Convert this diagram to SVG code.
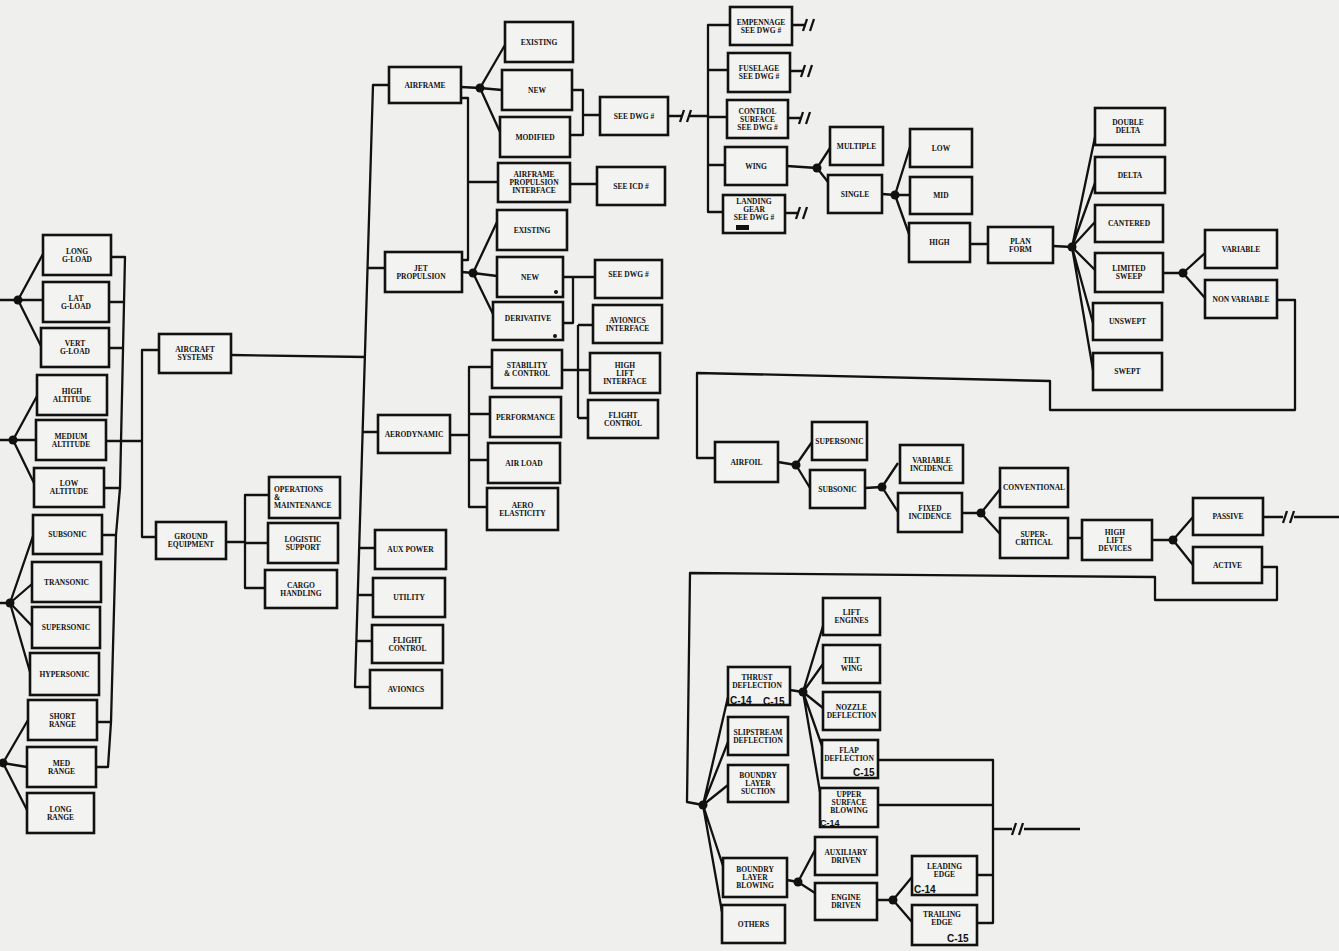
<svg xmlns="http://www.w3.org/2000/svg" xmlns:xlink="http://www.w3.org/1999/xlink" width="1339" height="951" viewBox="0 0 1339 951">
<style>
.b{fill:#f3f3f1;stroke:#111;stroke-width:2.6}
.c{fill:none;stroke:#111;stroke-width:2.3;stroke-linejoin:round}
.d{fill:#111}
.t{font-family:"Liberation Serif",serif;font-weight:bold;font-size:7.5px;fill:#111;text-anchor:middle}
.k{font-family:"Liberation Sans",sans-serif;font-weight:bold;font-size:10px;fill:#111}
</style>
<defs>
<path id="brk" class="c" d="M-7,6 L-3,-6 M0,6 L4,-6"/>
</defs>
<rect x="0" y="0" width="1339" height="951" fill="#efefed"/>
<g id="connectors">
<path class="c" d="M0,300 H18 M18,300 L43,254 M18,300 H43 M18,300 L41,346"/>
<path class="c" d="M0,440 H13 M13,440 L37,396 M13,440 H36 M13,440 L34,483"/>
<path class="c" d="M0,603 H10 M10,603 L33,536 M10,603 L32,584 M10,603 L32,626 M10,603 L30,672"/>
<path class="c" d="M0,763 H3 M3,763 L28,720 M3,763 L27,767 M3,763 L27,810"/>
<path class="c" d="M111,257 H125 L120,488 L116,535 L111,722 L108,767 H96 M109,302 H124 M109,348 H124 M104,488 H120 M102,535 H116 M97,722 H111"/>
<path class="c" d="M106,441 H142 M159,350 H142 V537 H156 M231,355 L366,357"/>
<path class="c" d="M389,85 H373 L355,687 H370 M385,268 H367.5 M378,432 H362.6 M375,548 H359 M373,595 H357.7 M372,641 H356.4"/>
<path class="c" d="M461,87 L480,88 L505,45 M480,88 L502,90 M480,88 L500,132 M461,98 H468 V260 H462 M468,182 H498 M572,90 H583 V135 H570 M583,115 H600 M668,116 H682 M690,116 H708 M570,184 H597"/>
<use xlink:href="#brk" x="687" y="116"/>
<path class="c" d="M462,272 L473,273 L497,222 M473,273 L497,276 M473,273 L493,314 M563,277 H595 M573,277 V323 H563 M562,370 H590 M578,325 V418 M578,325 H593 M578,418 H588"/>
<path class="c" d="M450,435 H469 M492,367 H469 V507 H487 M469,414 H490 M469,460 H488"/>
<path class="c" d="M226,542 H245 M269,495 H245 V588 H265 M245,543 H268"/>
<path class="c" d="M730,25 H708 V212 H723 M708,70 H728 M708,117 H727 M708,165 H725 M792,25 H806 M790,71 H804 M788,118 H802 M785,213 H799"/>
<use xlink:href="#brk" x="810" y="25"/>
<use xlink:href="#brk" x="808" y="71"/>
<use xlink:href="#brk" x="806" y="118"/>
<use xlink:href="#brk" x="803" y="213"/>
<path class="c" d="M787,166 L817,168 L830,148 M817,168 L828,182 M882,194 L895,195 L910,147 M895,195 H910 M895,195 L909,234 M970,244 H988"/>
<path class="c" d="M1053,246 L1072,247 L1095,137 M1072,247 L1095,183 M1072,247 L1095,222 M1072,247 L1095,270 M1072,247 L1093,323 M1072,247 L1093,370 M1163,273 H1183 L1205,253 M1183,273 L1205,298"/>
<path class="c" d="M1277,300 H1295 V410 H1050 V381 L697,373 V458 H715"/>
<path class="c" d="M778,462 L796,465 L812,442 M796,465 L810,488 M865,488 L882,487 L898,463 M882,487 L898,512 M962,513 L981,513 L1001,488 M981,513 L1001,535 M1068,538 H1082 M1152,540 H1173 L1193,517 M1173,540 L1193,565 M1263,517 H1283 M1294,517 H1339"/>
<use xlink:href="#brk" x="1290" y="517"/>
<path class="c" d="M1262,567 H1277 V600 H1155 V577 L690,573 L687,802 L703,805"/>
<path class="c" d="M703,805 L728,697 M703,805 L728,742 M703,805 L728,785 M703,805 L723,866 M703,805 L722,912"/>
<path class="c" d="M790,690 L803,692 L823,626 M803,692 L823,664 M803,692 L823,708 M803,692 L822,746 M803,692 L820,792"/>
<path class="c" d="M787,880 L798,882 L815,850 M798,882 L815,893 M877,900 H893 L912,877 M893,900 L912,922"/>
<path class="c" d="M878,760 H993 V923 H977 M878,805 H993 M977,875 H993 M993,829 H1012 M1024,829 H1080"/>
<use xlink:href="#brk" x="1019" y="829"/>
<g class="d">
<circle cx="18" cy="300" r="4.5"/><circle cx="13" cy="440" r="4.5"/><circle cx="10" cy="603" r="4.5"/><circle cx="3" cy="763" r="4.5"/>
<circle cx="480" cy="88" r="4.5"/><circle cx="473" cy="273" r="4.5"/><circle cx="817" cy="168" r="4.5"/><circle cx="895" cy="195" r="4.5"/>
<circle cx="1072" cy="247" r="4.5"/><circle cx="1183" cy="273" r="4.5"/><circle cx="796" cy="465" r="4.5"/><circle cx="882" cy="487" r="4.5"/>
<circle cx="981" cy="513" r="4.5"/><circle cx="1173" cy="540" r="4.5"/><circle cx="703" cy="805" r="4.5"/><circle cx="803" cy="692" r="4.5"/>
<circle cx="798" cy="882" r="4.5"/><circle cx="893" cy="900" r="4.5"/>
</g>
</g>
<g id="long_gload"><rect class="b" x="43" y="235" width="68" height="40"/><text class="t" y="253.5"><tspan x="77">LONG</tspan><tspan x="77" dy="8">G-LOAD</tspan></text></g>
<g id="lat_gload"><rect class="b" x="43" y="282" width="66" height="40"/><text class="t" y="300.5"><tspan x="76">LAT</tspan><tspan x="76" dy="8">G-LOAD</tspan></text></g>
<g id="vert_gload"><rect class="b" x="41" y="328" width="68" height="39"/><text class="t" y="346"><tspan x="75">VERT</tspan><tspan x="75" dy="8">G-LOAD</tspan></text></g>
<g id="high_altitude"><rect class="b" x="37" y="375" width="70" height="40"/><text class="t" y="393.5"><tspan x="72">HIGH</tspan><tspan x="72" dy="8">ALTITUDE</tspan></text></g>
<g id="medium_altitude"><rect class="b" x="36" y="420" width="70" height="40"/><text class="t" y="438.5"><tspan x="71">MEDIUM</tspan><tspan x="71" dy="8">ALTITUDE</tspan></text></g>
<g id="low_altitude"><rect class="b" x="34" y="468" width="70" height="39"/><text class="t" y="486"><tspan x="69">LOW</tspan><tspan x="69" dy="8">ALTITUDE</tspan></text></g>
<g id="subsonic_l"><rect class="b" x="33" y="515" width="69" height="39"/><text class="t" x="67.5" y="537">SUBSONIC</text></g>
<g id="transonic"><rect class="b" x="32" y="562" width="69" height="40"/><text class="t" x="66.5" y="584.5">TRANSONIC</text></g>
<g id="supersonic_l"><rect class="b" x="32" y="607" width="68" height="41"/><text class="t" x="66" y="630">SUPERSONIC</text></g>
<g id="hypersonic"><rect class="b" x="30" y="653" width="69" height="42"/><text class="t" x="64.5" y="676.5">HYPERSONIC</text></g>
<g id="short_range"><rect class="b" x="28" y="700" width="69" height="40"/><text class="t" y="718.5"><tspan x="62.5">SHORT</tspan><tspan x="62.5" dy="8">RANGE</tspan></text></g>
<g id="med_range"><rect class="b" x="27" y="747" width="69" height="40"/><text class="t" y="765.5"><tspan x="61.5">MED</tspan><tspan x="61.5" dy="8">RANGE</tspan></text></g>
<g id="long_range"><rect class="b" x="27" y="793" width="67" height="40"/><text class="t" y="811.5"><tspan x="60.5">LONG</tspan><tspan x="60.5" dy="8">RANGE</tspan></text></g>
<g id="aircraft_systems"><rect class="b" x="159" y="334" width="72" height="39"/><text class="t" y="352"><tspan x="195">AIRCRAFT</tspan><tspan x="195" dy="8">SYSTEMS</tspan></text></g>
<g id="ground_equipment"><rect class="b" x="156" y="522" width="70" height="37"/><text class="t" y="539"><tspan x="191">GROUND</tspan><tspan x="191" dy="8">EQUIPMENT</tspan></text></g>
<g id="ops_maint"><rect class="b" x="269" y="477" width="71" height="41"/><text class="t" y="491.5" style="text-anchor:start"><tspan x="274">OPERATIONS</tspan><tspan x="274" dy="8">&amp;</tspan><tspan x="274" dy="8">MAINTENANCE</tspan></text></g>
<g id="logistic_support"><rect class="b" x="268" y="523" width="70" height="40"/><text class="t" y="541.5"><tspan x="303">LOGISTIC</tspan><tspan x="303" dy="8">SUPPORT</tspan></text></g>
<g id="cargo_handling"><rect class="b" x="265" y="570" width="72" height="38"/><text class="t" y="587.5"><tspan x="301">CARGO</tspan><tspan x="301" dy="8">HANDLING</tspan></text></g>
<g id="airframe"><rect class="b" x="389" y="67" width="72" height="36"/><text class="t" x="425" y="87.5">AIRFRAME</text></g>
<g id="af_existing"><rect class="b" x="505" y="22" width="68" height="40"/><text class="t" x="539" y="44.5">EXISTING</text></g>
<g id="af_new"><rect class="b" x="502" y="70" width="70" height="40"/><text class="t" x="537" y="92.5">NEW</text></g>
<g id="af_modified"><rect class="b" x="500" y="117" width="70" height="40"/><text class="t" x="535" y="139.5">MODIFIED</text></g>
<g id="see_dwg_1"><rect class="b" x="600" y="97" width="68" height="38"/><text class="t" x="634" y="118.5">SEE DWG #</text></g>
<g id="af_prop_interface"><rect class="b" x="498" y="163" width="72" height="39"/><text class="t" y="177"><tspan x="534">AIRFRAME</tspan><tspan x="534" dy="8">PROPULSION</tspan><tspan x="534" dy="8">INTERFACE</tspan></text></g>
<g id="see_icd"><rect class="b" x="597" y="167" width="68" height="38"/><text class="t" x="631" y="188.5">SEE ICD #</text></g>
<g id="jet_propulsion"><rect class="b" x="385" y="252" width="77" height="40"/><text class="t" y="270.5"><tspan x="421">JET</tspan><tspan x="421" dy="8">PROPULSION</tspan></text></g>
<g id="jp_existing"><rect class="b" x="497" y="210" width="70" height="40"/><text class="t" x="532" y="232.5">EXISTING</text></g>
<g id="jp_new"><rect class="b" x="497" y="257" width="66" height="40"/><text class="t" x="530" y="279.5">NEW</text><circle class="d" cx="556" cy="292" r="2"/></g>
<g id="derivative"><rect class="b" x="493" y="302" width="70" height="38"/><text class="t" x="528" y="321">DERIVATIVE</text><circle class="d" cx="555" cy="336" r="2"/></g>
<g id="see_dwg_2"><rect class="b" x="595" y="260" width="67" height="38"/><text class="t" x="628.5" y="277">SEE DWG #</text></g>
<g id="avionics_interface"><rect class="b" x="593" y="305" width="69" height="38"/><text class="t" y="322.5"><tspan x="627.5">AVIONICS</tspan><tspan x="627.5" dy="8">INTERFACE</tspan></text></g>
<g id="stability_control"><rect class="b" x="492" y="350" width="70" height="38"/><text class="t" y="367.5"><tspan x="527">STABILITY</tspan><tspan x="527" dy="8">&amp; CONTROL</tspan></text></g>
<g id="high_lift_interface"><rect class="b" x="590" y="353" width="70" height="40"/><text class="t" y="367.5"><tspan x="625">HIGH</tspan><tspan x="625" dy="8">LIFT</tspan><tspan x="625" dy="8">INTERFACE</tspan></text></g>
<g id="flight_control_1"><rect class="b" x="588" y="400" width="70" height="38"/><text class="t" y="417.5"><tspan x="623">FLIGHT</tspan><tspan x="623" dy="8">CONTROL</tspan></text></g>
<g id="aerodynamic"><rect class="b" x="378" y="415" width="72" height="38"/><text class="t" x="414" y="436.5">AERODYNAMIC</text></g>
<g id="performance"><rect class="b" x="490" y="397" width="71" height="40"/><text class="t" x="525.5" y="419.5">PERFORMANCE</text></g>
<g id="air_load"><rect class="b" x="488" y="443" width="72" height="40"/><text class="t" x="524" y="465.5">AIR LOAD</text></g>
<g id="aero_elasticity"><rect class="b" x="487" y="488" width="71" height="42"/><text class="t" y="507.5"><tspan x="522.5">AERO</tspan><tspan x="522.5" dy="8">ELASTICITY</tspan></text></g>
<g id="aux_power"><rect class="b" x="375" y="530" width="71" height="39"/><text class="t" x="410.5" y="552">AUX POWER</text></g>
<g id="utility"><rect class="b" x="373" y="578" width="72" height="39"/><text class="t" x="409" y="600">UTILITY</text></g>
<g id="flight_control_2"><rect class="b" x="372" y="625" width="71" height="38"/><text class="t" y="642.5"><tspan x="407.5">FLIGHT</tspan><tspan x="407.5" dy="8">CONTROL</tspan></text></g>
<g id="avionics"><rect class="b" x="370" y="670" width="72" height="38"/><text class="t" x="406" y="691.5">AVIONICS</text></g>
<g id="empennage"><rect class="b" x="730" y="7" width="62" height="38"/><text class="t" y="24.5"><tspan x="761">EMPENNAGE</tspan><tspan x="761" dy="8">SEE DWG #</tspan></text></g>
<g id="fuselage"><rect class="b" x="728" y="53" width="62" height="39"/><text class="t" y="71"><tspan x="759">FUSELAGE</tspan><tspan x="759" dy="8">SEE DWG #</tspan></text></g>
<g id="control_surface"><rect class="b" x="727" y="100" width="61" height="38"/><text class="t" y="113.5"><tspan x="757.5">CONTROL</tspan><tspan x="757.5" dy="8">SURFACE</tspan><tspan x="757.5" dy="8">SEE DWG #</tspan></text></g>
<g id="wing"><rect class="b" x="725" y="147" width="62" height="38"/><text class="t" x="756" y="168.5">WING</text></g>
<g id="landing_gear"><rect class="b" x="723" y="195" width="62" height="38"/><text class="t" y="204"><tspan x="754">LANDING</tspan><tspan x="754" dy="8">GEAR</tspan><tspan x="754" dy="8">SEE DWG #</tspan></text><rect class="d" x="736" y="225" width="13" height="5"/></g>
<g id="multiple"><rect class="b" x="830" y="127" width="53" height="38"/><text class="t" x="856.5" y="148.5">MULTIPLE</text></g>
<g id="single"><rect class="b" x="828" y="175" width="54" height="38"/><text class="t" x="855" y="196.5">SINGLE</text></g>
<g id="low"><rect class="b" x="910" y="129" width="62" height="38"/><text class="t" x="941" y="150.5">LOW</text></g>
<g id="mid"><rect class="b" x="910" y="177" width="62" height="37"/><text class="t" x="941" y="198">MID</text></g>
<g id="high"><rect class="b" x="909" y="223" width="61" height="39"/><text class="t" x="939.5" y="245">HIGH</text></g>
<g id="plan_form"><rect class="b" x="988" y="227" width="65" height="36"/><text class="t" y="243.5"><tspan x="1020.5">PLAN</tspan><tspan x="1020.5" dy="8">FORM</tspan></text></g>
<g id="double_delta"><rect class="b" x="1095" y="108" width="70" height="37"/><text class="t" y="125"><tspan x="1128">DOUBLE</tspan><tspan x="1128" dy="8">DELTA</tspan></text></g>
<g id="delta"><rect class="b" x="1095" y="157" width="70" height="36"/><text class="t" x="1130" y="177.5">DELTA</text></g>
<g id="cantered"><rect class="b" x="1095" y="205" width="68" height="37"/><text class="t" x="1129" y="226">CANTERED</text></g>
<g id="limited_sweep"><rect class="b" x="1095" y="253" width="68" height="39"/><text class="t" y="271"><tspan x="1129">LIMITED</tspan><tspan x="1129" dy="8">SWEEP</tspan></text></g>
<g id="unswept"><rect class="b" x="1093" y="303" width="69" height="37"/><text class="t" x="1127.5" y="324">UNSWEPT</text></g>
<g id="swept"><rect class="b" x="1093" y="353" width="69" height="37"/><text class="t" x="1127.5" y="374">SWEPT</text></g>
<g id="variable"><rect class="b" x="1205" y="230" width="72" height="38"/><text class="t" x="1241" y="251.5">VARIABLE</text></g>
<g id="non_variable"><rect class="b" x="1205" y="280" width="72" height="38"/><text class="t" x="1241" y="301.5">NON VARIABLE</text></g>
<g id="airfoil"><rect class="b" x="715" y="442" width="63" height="40"/><text class="t" x="746.5" y="464.5">AIRFOIL</text></g>
<g id="supersonic_r"><rect class="b" x="812" y="422" width="55" height="38"/><text class="t" x="839.5" y="443.5">SUPERSONIC</text></g>
<g id="subsonic_r"><rect class="b" x="810" y="470" width="55" height="38"/><text class="t" x="837.5" y="491.5">SUBSONIC</text></g>
<g id="variable_incidence"><rect class="b" x="900" y="445" width="63" height="38"/><text class="t" y="462.5"><tspan x="931.5">VARIABLE</tspan><tspan x="931.5" dy="8">INCIDENCE</tspan></text></g>
<g id="fixed_incidence"><rect class="b" x="898" y="493" width="64" height="39"/><text class="t" y="511"><tspan x="930">FIXED</tspan><tspan x="930" dy="8">INCIDENCE</tspan></text></g>
<g id="conventional"><rect class="b" x="1000" y="468" width="68" height="39"/><text class="t" x="1034" y="490">CONVENTIONAL</text></g>
<g id="supercritical"><rect class="b" x="1000" y="518" width="68" height="40"/><text class="t" y="536.5"><tspan x="1034">SUPER-</tspan><tspan x="1034" dy="8">CRITICAL</tspan></text></g>
<g id="high_lift_devices"><rect class="b" x="1082" y="520" width="70" height="40"/><text class="t" y="534.5"><tspan x="1115">HIGH</tspan><tspan x="1115" dy="8">LIFT</tspan><tspan x="1115" dy="8">DEVICES</tspan></text></g>
<g id="passive"><rect class="b" x="1193" y="498" width="70" height="37"/><text class="t" x="1228" y="519">PASSIVE</text></g>
<g id="active"><rect class="b" x="1193" y="547" width="69" height="36"/><text class="t" x="1227.5" y="567.5">ACTIVE</text></g>
<g id="thrust_deflection"><rect class="b" x="728" y="667" width="62" height="38"/><text class="t" y="680"><tspan x="757">THRUST</tspan><tspan x="757" dy="8">DEFLECTION</tspan></text><text class="k" x="730" y="704">C-14</text><text class="k" x="763" y="705">C-15</text></g>
<g id="slipstream_deflection"><rect class="b" x="728" y="717" width="60" height="38"/><text class="t" y="734.5"><tspan x="758">SLIPSTREAM</tspan><tspan x="758" dy="8">DEFLECTION</tspan></text></g>
<g id="boundry_layer_suction"><rect class="b" x="728" y="765" width="60" height="37"/><text class="t" y="778"><tspan x="758">BOUNDRY</tspan><tspan x="758" dy="8">LAYER</tspan><tspan x="758" dy="8">SUCTION</tspan></text></g>
<g id="boundry_layer_blowing"><rect class="b" x="723" y="858" width="64" height="39"/><text class="t" y="872"><tspan x="755">BOUNDRY</tspan><tspan x="755" dy="8">LAYER</tspan><tspan x="755" dy="8">BLOWING</tspan></text></g>
<g id="others"><rect class="b" x="722" y="905" width="63" height="38"/><text class="t" x="753.5" y="926.5">OTHERS</text></g>
<g id="lift_engines"><rect class="b" x="823" y="598" width="57" height="37"/><text class="t" y="615"><tspan x="851.5">LIFT</tspan><tspan x="851.5" dy="8">ENGINES</tspan></text></g>
<g id="tilt_wing"><rect class="b" x="823" y="645" width="57" height="38"/><text class="t" y="662.5"><tspan x="851.5">TILT</tspan><tspan x="851.5" dy="8">WING</tspan></text></g>
<g id="nozzle_deflection"><rect class="b" x="823" y="692" width="57" height="38"/><text class="t" y="709.5"><tspan x="851.5">NOZZLE</tspan><tspan x="851.5" dy="8">DEFLECTION</tspan></text></g>
<g id="flap_deflection"><rect class="b" x="822" y="740" width="56" height="38"/><text class="t" y="753"><tspan x="849">FLAP</tspan><tspan x="849" dy="8">DEFLECTION</tspan></text><text class="k" x="853" y="776">C-15</text></g>
<g id="upper_surface_blowing"><rect class="b" x="820" y="788" width="58" height="39"/><text class="t" y="797"><tspan x="849">UPPER</tspan><tspan x="849" dy="8">SURFACE</tspan><tspan x="849" dy="8">BLOWING</tspan></text><text class="k" x="820" y="826" style="font-size:9px">C-14</text></g>
<g id="auxiliary_driven"><rect class="b" x="815" y="837" width="62" height="38"/><text class="t" y="854.5"><tspan x="846">AUXILIARY</tspan><tspan x="846" dy="8">DRIVEN</tspan></text></g>
<g id="engine_driven"><rect class="b" x="815" y="883" width="62" height="37"/><text class="t" y="900"><tspan x="846">ENGINE</tspan><tspan x="846" dy="8">DRIVEN</tspan></text></g>
<g id="leading_edge"><rect class="b" x="912" y="856" width="65" height="39"/><text class="t" y="869"><tspan x="944.5">LEADING</tspan><tspan x="944.5" dy="8">EDGE</tspan></text><text class="k" x="914" y="893">C-14</text></g>
<g id="trailing_edge"><rect class="b" x="912" y="905" width="65" height="40"/><text class="t" y="917"><tspan x="942">TRAILING</tspan><tspan x="942" dy="8">EDGE</tspan></text><text class="k" x="947" y="942">C-15</text></g>
</svg>
